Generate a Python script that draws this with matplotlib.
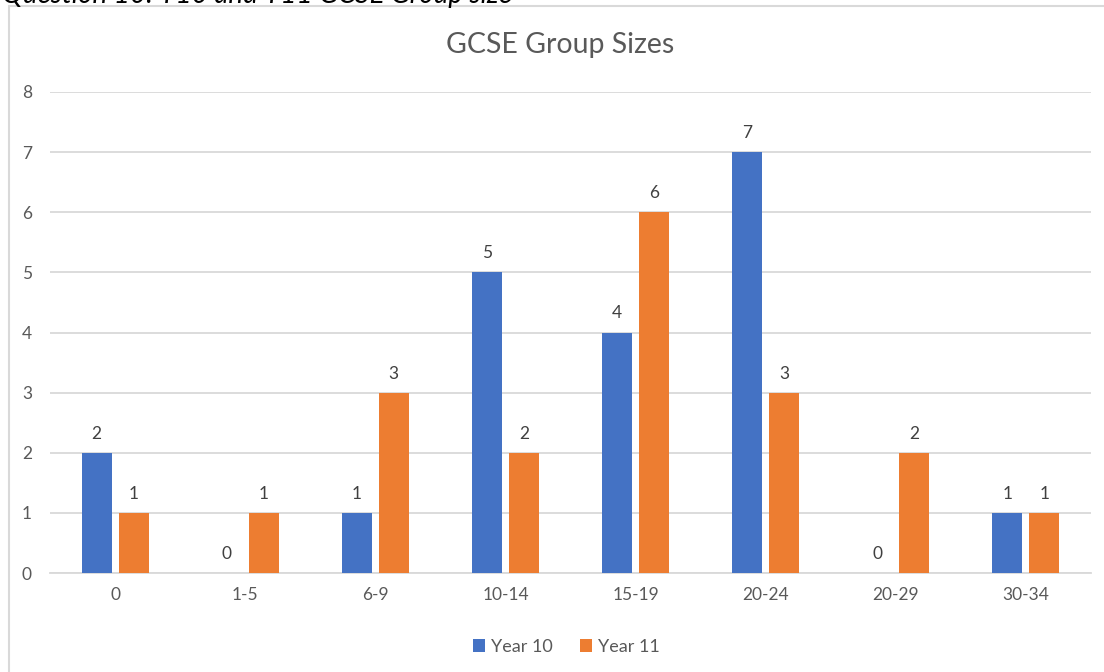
import matplotlib.pyplot as plt
from matplotlib.patches import Rectangle
import numpy as np

# Data
groups = ['0', '1-5', '6-9', '10-14', '15-19', '20-24', '20-29', '30-34']
year10 = [2, 0, 1, 5, 4, 7, 0, 1]
year11 = [1, 1, 3, 2, 6, 3, 2, 1]

blue = '#4472c4'
orange = '#ed7d31'
grey_text = '#595959'

plt.rcParams['font.family'] = ['Lato', 'DejaVu Sans']

fig = plt.figure(figsize=(11.04, 6.72), dpi=100)

# frame of the chart object (right/bottom fall off the crop)
fig.patches.append(Rectangle((9 / 1104, -0.1), 1.2, (672 - 6) / 672 + 0.1,
                             transform=fig.transFigure, fill=False,
                             edgecolor='#d9d9d9', linewidth=1.5))
# caption above the chart, cut off at the top like in the source
fig.text(2 / 1104, 1.0 - 3 / 672, 'Question 10: Y10 and Y11 GCSE Group size', ha='left',
         va='baseline', fontsize=20, style='italic', color='black')

ax = fig.add_axes([50 / 1104, (672 - 573) / 672, (1091 - 50) / 1104, (573 - 92) / 672])

x = np.arange(len(groups))
width = 0.23
off = 0.142

b10 = ax.bar(x - off, year10, width, color=blue, label='Year 10', zorder=3)
b11 = ax.bar(x + off, year11, width, color=orange, label='Year 11', zorder=3)

for bars in (b10, b11):
    for bar in bars:
        h = bar.get_height()
        ax.annotate(f'{h:.0f}', xy=(bar.get_x() + bar.get_width() / 2, h),
                    xytext=(0, 8), textcoords='offset points',
                    ha='center', va='bottom', fontsize=12.5, color='#404040')

ax.set_xlim(-0.5, len(groups) - 0.5)
ax.set_ylim(0, 8)
ax.set_yticks(range(0, 9))
ax.set_xticks(x)
ax.set_xticklabels(groups)
ax.tick_params(axis='both', length=0, labelsize=12.5, colors=grey_text)
ax.tick_params(axis='y', pad=13)
ax.tick_params(axis='x', pad=10)
ax.yaxis.grid(True, color='#d9d9d9', linewidth=1.3, zorder=0)
ax.set_axisbelow(True)
for s in ('top', 'right', 'left'):
    ax.spines[s].set_visible(False)
ax.spines['bottom'].set_color('#d9d9d9')
ax.spines['bottom'].set_linewidth(1.3)

fig.text(560 / 1104, (672 - 45) / 672, 'GCSE Group Sizes', ha='center', va='center',
         fontsize=20.5, color=grey_text)

fig.legend(handles=[b10, b11], loc='center', bbox_to_anchor=(566 / 1104, (672 - 647) / 672),
           ncol=2, frameon=False, fontsize=13, labelcolor=grey_text,
           handlelength=0.7, handleheight=0.7, handletextpad=0.3, columnspacing=1.5)

fig.savefig('out.png', dpi=100)
